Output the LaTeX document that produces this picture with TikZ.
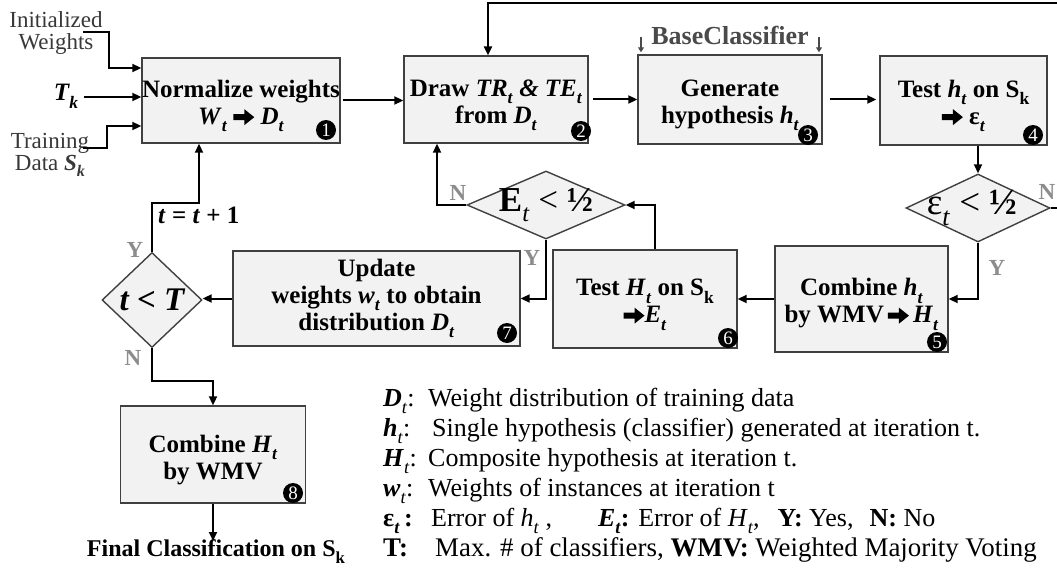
\documentclass[tikz,border=0pt]{standalone}
\usepackage{fontspec}
\usepackage{graphicx}
\setmainfont{Liberation Serif}
\usetikzlibrary{shapes.geometric,arrows.meta}

\definecolor{boxfill}{HTML}{F2F2F2}
\definecolor{boxline}{HTML}{404040}
\definecolor{ynGray}{HTML}{8C8C8C}
\definecolor{inGray}{HTML}{383838}
\definecolor{bcGray}{HTML}{4A4A4A}

% lowered, reduced subscript that keeps the current text font
\newcommand\sbx[1]{\raisebox{-0.3em}{\scalebox{0.7}{#1}}}
\newcommand\tsub{\sbx{\textit{t}}}
% thick block arrow used inside the box texts (symmetric, centred 7pt above the baseline)
\newcommand\heavyarrow{\tikz[baseline=-7pt]{\fill[black] (0pt,-3pt) -- (11pt,-3pt) -- (11pt,-8pt) -- (21pt,0pt) -- (11pt,8pt) -- (11pt,3pt) -- (0pt,3pt) -- cycle;}}
\newcommand\fsz[1]{\fontsize{#1}{#1}\selectfont}
% tall strut on a first line: sets the two-line texts a little lower in their boxes
\newcommand\topstrut{\rule{0pt}{28pt}}

\tikzset{
  blk/.style={draw=boxline, fill=boxfill, line width=1.4pt, align=center,
    inner sep=0pt, font=\bfseries\fontsize{25}{27}\selectfont},
  dmd/.style={diamond, draw=boxline, fill=boxfill, line width=1.4pt, inner sep=0pt},
  num/.style={circle, fill=black, text=white, minimum size=20pt, inner sep=0pt,
    font=\fsz{19}},
  arr/.style={draw=black, line width=2pt, -{Triangle[length=9pt,width=8pt]}},
  sarr/.style={draw=bcGray, line width=1.6pt, -{Triangle[length=5pt,width=6pt]}},
  yn/.style={text=ynGray, font=\bfseries\fsz{23}, inner sep=0pt},
  inlab/.style={text=inGray, font=\fsz{23}, inner sep=0pt, anchor=base},
  leg/.style={font=\fsz{26}, inner sep=0pt, anchor=base west},
}

\begin{document}
\begin{tikzpicture}[x=1pt,y=-1pt]
\useasboundingbox (0,0) rectangle (1057,575);
\clip (0,0) rectangle (1057,575);

% ---- process boxes ----
\node[blk, minimum width=198pt, minimum height=85pt] (b1) at (241,100.5)
  {\topstrut Normalize weights\\\textit{W}\tsub\ \heavyarrow\ \textit{D}\tsub};
\node[blk, minimum width=184pt, minimum height=87pt] (b2) at (496,99.5)
  {\topstrut Draw \textit{TR}\tsub\ \textit{\&} \textit{TE}\tsub\\from \textit{D}\tsub};
\node[blk, minimum width=184pt, minimum height=89pt] (b3) at (730,99.5)
  {\topstrut Generate\\hypothesis \textit{h}\tsub};
\node[blk, minimum width=167pt, minimum height=89pt] (b4) at (963.5,100.5)
  {\topstrut Test \textit{h}\tsub\ on S\sbx{k}\\\heavyarrow\ ε\tsub};
\node[blk, minimum width=173pt, minimum height=106pt] (b5) at (861.5,299)
  {\topstrut Combine \textit{h}\tsub\\by WMV\,\heavyarrow\,\textit{H}\tsub};
\node[blk, minimum width=184pt, minimum height=98pt] (b6) at (645,299)
  {\topstrut Test \textit{H}\tsub\ on S\sbx{k}\\\heavyarrow\textit{E}\tsub};
\node[blk, minimum width=287pt, minimum height=95pt] (b7) at (376.5,298.5)
  {Update\\weights \textit{w}\tsub\ to obtain\\distribution \textit{D}\tsub};
\node[blk, minimum width=185pt, minimum height=97pt] (b8) at (213,454.5)
  {\topstrut Combine \textit{H}\tsub\\by WMV};

% ---- decisions ----
\node[dmd, minimum width=158pt, minimum height=68pt] (dE) at (546,205)
  {\makebox[0pt]{\fsz{35}\textbf{E}\tsub\ < \textbf{½}}};
\node[dmd, minimum width=144pt, minimum height=68pt] (dEps) at (978,208)
  {\makebox[0pt]{\hspace{-12pt}\fsz{37}ε\tsub\ < \textbf{½}}};
\node[dmd, minimum width=100pt, minimum height=95pt] (dT) at (152,300)
  {\makebox[0pt]{\fsz{33}\bfseries\itshape t < T}};

% ---- step numbers ----
\node[num] (n1) at (326,130) {1};
\node[num] (n2) at (581,131) {2};
\node[num] (n3) at (808,135) {3};
\node[num] (n4) at (1033,135) {4};
\node[num] (n5) at (937,342) {5};
\node[num] (n6) at (728,338) {6};
\node[num] (n7) at (507,333) {7};
\node[num] (n8) at (293,493) {8};

% ---- inputs ----
\node[inlab] (iw1) at (56,28) {Initialized};
\node[inlab] (iw2) at (56,50) {Weights};
\node[inlab, text=black, font=\bfseries\itshape\fsz{25}] (tk) at (66,101) {T\sbx{k}};
\node[inlab] (td1) at (50,148) {Training};
\node[inlab] (td2) at (50,170) {Data \textbf{\textit{S}}\sbx{\textbf{\textit{k}}}};

\coordinate (iwS) at (83,32);
\coordinate (iwK) at (109,68);
\coordinate (tkS) at (84,97);
\coordinate (tdS) at (83,148);
\coordinate (tdK) at (107,126);
\draw[arr] (iwS) -| (iwK) -- (iwK -| b1.west);
\draw[arr] (tkS) -- (tkS -| b1.west);
\draw[arr] (tdS) -| (tdK) -- (tdK -| b1.west);

% ---- base classifier ----
\node[font=\bfseries\fsz{26}, text=bcGray, inner sep=0pt, anchor=base] (bc) at (730,45) {BaseClassifier};
\coordinate (bcL) at (641,37);
\coordinate (bcR) at (819,37);
\draw[sarr, shorten >=2pt] (bcL) -- (bcL |- b3.north);
\draw[sarr, shorten >=2pt] (bcR) -- (bcR |- b3.north);

% ---- main flow ----
\draw[arr, shorten <=2pt] (b1.east) -- (b1.east -| b2.west);
\draw[arr, shorten <=4pt] (b2.east) -- (b2.east -| b3.west);
\draw[arr, shorten <=7pt, shorten >=3pt] (b3.east) -- (b3.east -| b4.west);
\draw[arr] (b4.south -| dEps.north) -- (dEps.north);

\coordinate (fbR) at (1070,3);
\coordinate (fbL) at (488,3);
\draw[arr, line width=2.5pt] (dEps.east) -| (fbR) -- (fbL) -- (fbL |- b2.north);

\draw[arr] (dEps.south) |- (b5.east);
\draw[arr] (b5.west) -- (b6.east);
\coordinate (upE) at (655,205);
\draw[arr] (b6.north -| upE) |- (dE.east);
\coordinate (nE) at (437,0);
\draw[arr] (dE.west) -| (b2.south -| nE);
\draw[arr] (dE.south) |- (b7.east);
\draw[arr] (b7.west) -- (b7.west -| dT.east);

\coordinate (incK) at (199,203);
\draw[arr] (dT.north) |- (incK) -- (incK |- b1.south);
\node[font=\bfseries\fsz{25}, inner sep=0pt, anchor=base west] (inc) at (158,223)
  {\textit{t} = \textit{t} + 1};

\coordinate (outK) at (213,381);
\draw[arr] (dT.south) |- (outK) -- (b8.north);
\coordinate (finK) at (213,541);
\draw[arr] (b8.south) -- (finK);
\node[font=\bfseries\fsz{24}, inner sep=0pt, anchor=base] (fin) at (216,556)
  {Final Classification on S\sbx{k}};

% ---- yes / no marks ----
\node[yn] (yEps) at (997,268) {Y};
\node[yn] (nEps) at (1047,192) {N};
\node[yn] (yE) at (532,258) {Y};
\node[yn] (nE2) at (458,193) {N};
\node[yn] (yT) at (135,250) {Y};
\node[yn] (nT) at (133,358) {N};

% ---- legend ----
\node[leg] (l1) at (383,406) {\makebox[45pt][l]{\textbf{\textit{D}}\tsub:}Weight distribution of training data};
\node[leg] (l2) at (383,436) {\makebox[49pt][l]{\textbf{\textit{h}}\tsub:}Single hypothesis (classifier) generated at iteration t.};
\node[leg] (l3) at (383,466) {\makebox[45pt][l]{\textbf{\textit{H}}\tsub:}Composite hypothesis at iteration t.};
\node[leg] (l4) at (383,496) {\makebox[45pt][l]{\textbf{\textit{w}}\tsub:}Weights of instances at iteration t};
\node[leg] (l5) at (383,526) {\makebox[48pt][l]{\textbf{ε\tsub\,:}}Error of \textit{h}\tsub\ ,\hspace{46pt}\textbf{\textit{E}\tsub:} Error of \textit{H}\tsub,\hspace{18pt}\textbf{Y:} Yes,\hspace{16pt}\textbf{N:} No};
\node[leg, font=\fsz{26.9}] (l6) at (383,556) {\makebox[52pt][l]{\textbf{T:}}Max. \# of classifiers, \textbf{WMV:} Weighted Majority Voting};
\end{tikzpicture}
\end{document}
